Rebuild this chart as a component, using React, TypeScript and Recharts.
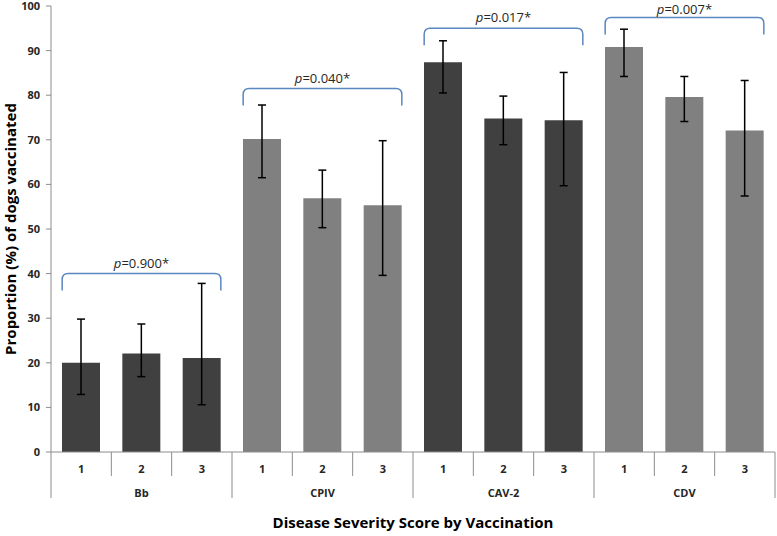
import React from 'react';
import { BarChart, Bar, Cell, XAxis, YAxis, ErrorBar, ReferenceLine } from 'recharts';

const groups = ['Bb', 'CPIV', 'CAV-2', 'CDV'];
const severity = ['1', '2', '3'];
const groupColors = ['#404040', '#808080', '#404040', '#808080'];

// proportion vaccinated per group, severity 1..3
const values = [
  [20.0, 22.1, 21.1],
  [70.2, 56.9, 55.3],
  [87.4, 74.8, 74.4],
  [90.8, 79.6, 72.1],
];
// confidence interval lower / upper bounds
const ciLow = [
  [12.9, 16.9, 10.6],
  [61.5, 50.3, 39.6],
  [80.5, 68.9, 59.7],
  [84.2, 74.1, 57.4],
];
const ciHigh = [
  [29.8, 28.7, 37.8],
  [77.8, 63.2, 69.8],
  [92.2, 79.8, 85.1],
  [94.8, 84.2, 83.3],
];

const pValues = ['0.900', '0.040', '0.017', '0.007'];
const bracketLevel = [40, 81.5, 95, 97.4];
const yTicks = [0, 10, 20, 30, 40, 50, 60, 70, 80, 90, 100];

const W = 777;
const H = 536;
const M = { top: 6, right: 2, left: 0, bottom: 0 };
const Y_W = 51;
const X_H = 84;
const BAND = (W - M.left - M.right - Y_W) / (groups.length * severity.length);

const data = groups.flatMap((g, gi) =>
  severity.map((s, si) => ({
    key: `${g}-${s}`,
    group: g,
    sev: s,
    gi,
    si,
    value: values[gi][si],
    err: [values[gi][si] - ciLow[gi][si], ciHigh[gi][si] - values[gi][si]],
  }))
);

const FONT = '"Open Sans", "Noto Sans", sans-serif';
const AXIS_GRAY = '#8c8c8c';

const XTick = (props: any) => {
  const { x, y, payload, index } = props;
  const d = data[index] ?? data.find((r) => r.key === payload.value);
  if (!d) return null;
  const left = x - BAND / 2;
  const right = x + BAND / 2;
  const isLast = index === data.length - 1;
  return (
    <g>
      <line x1={left} y1={y} x2={left} y2={y + (d.si === 0 ? 46 : 24)} stroke={AXIS_GRAY} />
      {isLast && <line x1={right} y1={y} x2={right} y2={y + 46} stroke={AXIS_GRAY} />}
      <text x={x} y={y + 21} textAnchor="middle" fontFamily={FONT} fontSize={11} fontWeight="bold" fill="#262626">
        {d.sev}
      </text>
      {d.si === 1 && (
        <text x={x} y={y + 45} textAnchor="middle" fontFamily={FONT} fontSize={11} fontWeight="bold" fill="#262626">
          {d.group}
        </text>
      )}
    </g>
  );
};

const makeBracket = (p: string) => (props: any) => {
  const { x1, y1, x2 } = props;
  if (x1 == null) return null;
  const ext = 19;
  const drop = 17;
  const r = 6;
  const a = x1 - ext;
  const b = x2 + ext;
  const path = `M${a},${y1 + drop} L${a},${y1 + r} Q${a},${y1} ${a + r},${y1} L${b - r},${y1} Q${b},${y1} ${b},${y1 + r} L${b},${y1 + drop}`;
  return (
    <g>
      <path d={path} fill="none" stroke="#5b87c0" strokeWidth={1.5} />
      <text x={(a + b) / 2} y={Math.max(y1 - 6, 14)} textAnchor="middle" fontFamily={FONT} fontSize={13} fill="#262626">
        <tspan fontStyle="italic">p</tspan>={p}*
      </text>
    </g>
  );
};

export default function App() {
  return (
    <div style={{ position: 'absolute', left: 0, top: 0, background: '#fff' }}>
      <BarChart width={W} height={H} data={data} margin={M}>
        <XAxis
          dataKey="key"
          height={X_H}
          interval={0}
          tickLine={false}
          tickSize={0}
          tickMargin={0}
          axisLine={{ stroke: AXIS_GRAY }}
          tick={<XTick />}
          label={{
            content: ({ viewBox }: any) => (
              <text x={viewBox.x + viewBox.width / 2} y={viewBox.y + 76} textAnchor="middle" fontFamily={FONT} fontSize={15} fontWeight="bold" fill="#000">
                Disease Severity Score by Vaccination
              </text>
            ),
          }}
        />
        <YAxis
          width={Y_W}
          domain={[0, 100]}
          ticks={yTicks}
          interval={0}
          tickSize={5}
          tickMargin={6}
          axisLine={{ stroke: AXIS_GRAY }}
          tickLine={{ stroke: AXIS_GRAY }}
          tick={{ fontFamily: FONT, fontSize: 11, fontWeight: 'bold', fill: '#262626' }}
          label={{
            content: ({ viewBox }: any) => {
              const cx = viewBox.x + 10;
              const cy = viewBox.y + viewBox.height / 2;
              return (
                <text x={cx} y={cy} transform={`rotate(-90 ${cx} ${cy})`} textAnchor="middle" dominantBaseline="central" fontFamily={FONT} fontSize={15} fontWeight="bold" fill="#000">
                  Proportion (%) of dogs vaccinated
                </text>
              );
            },
          }}
        />
        <Bar dataKey="value" barSize={38} isAnimationActive={false}>
          {data.map((d) => (
            <Cell key={d.key} fill={groupColors[d.gi]} />
          ))}
          <ErrorBar dataKey="err" width={4} stroke="#000" strokeWidth={1.5} isAnimationActive={false} />
        </Bar>
        {groups.map((g, gi) => (
          <ReferenceLine
            key={g}
            segment={[
              { x: `${g}-${severity[0]}`, y: bracketLevel[gi] },
              { x: `${g}-${severity[severity.length - 1]}`, y: bracketLevel[gi] },
            ]}
            ifOverflow="visible"
            shape={makeBracket(pValues[gi])}
          />
        ))}
      </BarChart>
    </div>
  );
}
